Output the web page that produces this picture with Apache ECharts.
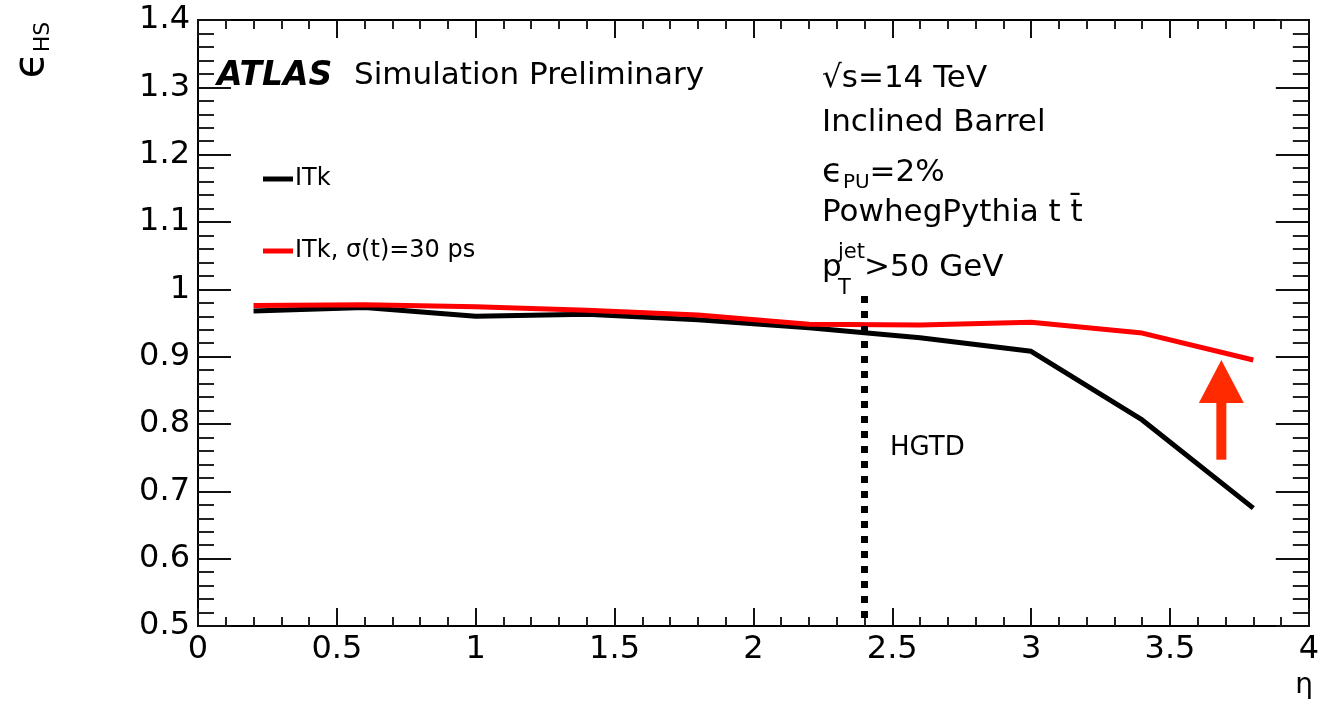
<!DOCTYPE html>
<html>
<head>
<meta charset="utf-8">
<script src="https://cdn.jsdelivr.net/npm/echarts@6/dist/echarts.min.js"></script>
<style>
  html, body { margin: 0; padding: 0; background: #fff; }
  #chart { width: 1322px; height: 701px; }
</style>
</head>
<body>
<div id="chart"></div>
<script>
// eta bin centres and efficiencies
const etaValues = [0.2, 0.6, 1.0, 1.4, 1.8, 2.2, 2.6, 3.0, 3.4, 3.8];
const itkEff = [0.968, 0.973, 0.960, 0.963, 0.955, 0.943, 0.928, 0.908, 0.806, 0.675];
const itkTimingEff = [0.976, 0.977, 0.974, 0.969, 0.962, 0.948, 0.947, 0.951, 0.935, 0.895];
const seriesNames = ['ITk', 'ITk, σ(t)=30 ps'];

// HGTD acceptance edge (drawn top down) and the red arrow
const hgtdX = [2.4, 2.4];
const hgtdY = [0.99, 0.5];
const arrowX = [3.685, 3.685];
const arrowShaftY = [0.747, 0.87];
const arrowTipY = 0.895;

const FONT = 'DejaVu Sans';

let pairs = (xs, ys) => xs.map((x, i) => [x, ys[i]]);

let axisCommon = (pos, majorLen, minorLen, showLabel) => ({
    type: 'value',
    position: pos,
    axisLine: { show: true, onZero: false, lineStyle: { color: '#000', width: 2 } },
    axisTick: { show: true, inside: true, length: majorLen, lineStyle: { color: '#111', width: 2 } },
    minorTick: { show: true, splitNumber: 5, length: minorLen, lineStyle: { color: '#222', width: 2 } },
    splitLine: { show: false },
    minorSplitLine: { show: false },
    axisLabel: { show: showLabel, fontFamily: FONT, fontSize: 32, color: '#000', margin: 8 }
});

let txt = (x, y, text, size, extra) => ({
    type: 'text', x: x, y: y, z: 100,
    style: Object.assign({ text: text, fontFamily: FONT, fontSize: size, fill: '#000', verticalAlign: 'middle' }, extra || {})
});

let myChart = echarts.init(document.getElementById('chart'));
let option = {
    animation: false,
    grid: { left: 198, right: 9, top: 20, bottom: 75 },
    xAxis: [
        Object.assign(axisCommon('bottom', 18, 9, true), { min: 0, max: 4, interval: 0.5 }),
        Object.assign(axisCommon('top', 18, 9, false), { min: 0, max: 4, interval: 0.5 })
    ],
    yAxis: [
        Object.assign(axisCommon('left', 33, 16, true), { min: 0.5, max: 1.4, interval: 0.1 }),
        Object.assign(axisCommon('right', 33, 16, false), { min: 0.5, max: 1.4, interval: 0.1 })
    ],
    legend: {
        data: seriesNames,
        orient: 'vertical',
        left: 258,
        top: 162,
        icon: 'rect',
        itemWidth: 30,
        itemHeight: 5,
        itemGap: 48,
        textStyle: { fontFamily: FONT, fontSize: 24, color: '#000', padding: [0, 0, 0, -3] }
    },
    series: [
        {
            name: seriesNames[0],
            type: 'line',
            symbol: 'none',
            data: pairs(etaValues, itkEff),
            lineStyle: { color: '#000', width: 5 },
            itemStyle: { color: '#000' },
            z: 3
        },
        {
            name: seriesNames[1],
            type: 'line',
            symbol: 'none',
            data: pairs(etaValues, itkTimingEff),
            lineStyle: { color: '#ff0000', width: 5 },
            itemStyle: { color: '#ff0000' },
            z: 4
        },
        {
            name: 'HGTD',
            type: 'line',
            symbol: 'none',
            data: pairs(hgtdX, hgtdY),
            lineStyle: { color: '#000', width: 7, type: [7, 8] },
            z: 5
        },
        {
            name: 'arrow',
            type: 'line',
            symbol: 'none',
            data: pairs(arrowX, arrowShaftY),
            lineStyle: { color: '#ff2a00', width: 10 },
            z: 5
        },
        {
            name: 'arrowHead',
            type: 'scatter',
            symbol: 'triangle',
            symbolSize: [45, 43],
            symbolOffset: [0, '50%'],
            data: [[arrowX[1], arrowTipY]],
            itemStyle: { color: '#ff2a00', opacity: 1 },
            z: 5
        }
    ],
    graphic: [
        // y axis title, rotated
        {
            type: 'text', x: 32, y: 50, rotation: Math.PI / 2, z: 100,
            style: {
                text: '{e|ϵ}{s|HS}', align: 'center', verticalAlign: 'middle', fill: '#000',
                rich: {
                    e: { fontFamily: FONT, fontSize: 42, lineHeight: 44, verticalAlign: 'middle' },
                    s: { fontFamily: FONT, fontSize: 22, lineHeight: 22, verticalAlign: 'bottom' }
                }
            }
        },
        txt(1313, 686, 'η', 28, { align: 'right' }),
        txt(217, 76, 'ATLAS', 33, { fontWeight: 'bold', fontStyle: 'italic' }),
        txt(354, 76, 'Simulation Preliminary', 31),
        txt(822, 79, '√s=14 TeV', 31),
        txt(822, 123, 'Inclined Barrel', 31),
        {
            type: 'text', x: 822, y: 173, z: 100,
            style: {
                text: '{e|ϵ}{s|PU}{n|=2%}', verticalAlign: 'middle', fill: '#000',
                rich: {
                    e: { fontFamily: FONT, fontSize: 34, lineHeight: 40, verticalAlign: 'middle' },
                    s: { fontFamily: FONT, fontSize: 20, lineHeight: 20, verticalAlign: 'bottom' },
                    n: { fontFamily: FONT, fontSize: 31, lineHeight: 40, verticalAlign: 'middle' }
                }
            }
        },
        txt(822, 213, 'PowhegPythia t t\u0304', 31),
        txt(822, 268, 'p', 31),
        txt(838, 253, 'jet', 21),
        txt(838, 289, 'T', 21),
        txt(864, 268, '>50 GeV', 31),
        txt(890, 448, 'HGTD', 26)
    ]
};
myChart.setOption(option);
window.onresize = function () {
    myChart.resize();
};
</script>
</body>
</html>
